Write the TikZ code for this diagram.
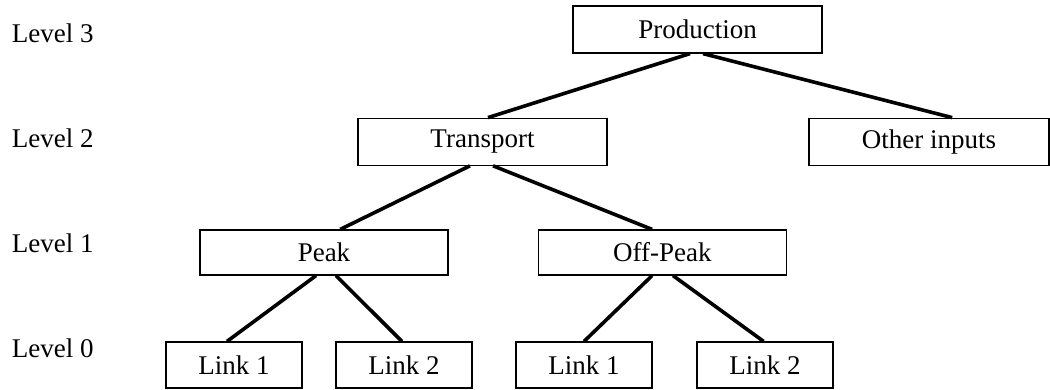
\documentclass[tikz,border=0pt]{standalone}
\usepackage{fontspec}
\setmainfont{Liberation Serif}
\usetikzlibrary{calc}
\begin{document}
\begin{tikzpicture}[x=1pt,y=-1pt,
  box/.style={draw=black,line width=1.2pt,rectangle,inner sep=0pt,
    font=\fontsize{27}{32}\selectfont},
  lvl/.style={anchor=base west,inner sep=0pt,font=\fontsize{27}{32}\selectfont},
  conn/.style={line width=3.6pt,black}]
\useasboundingbox (0,0) rectangle (1050,389);
% level labels
\node[lvl] (l3) at (11.7,42.7) {Level 3};
\node[lvl] (l2) at (11.7,147) {Level 2};
\node[lvl] (l1) at (11.7,252) {Level 1};
\node[lvl] (l0) at (11.7,357) {Level 0};
% boxes
\node[box,minimum width=249pt,minimum height=47pt] (prod) at (697.5,29.5) {Production};
\node[box,minimum width=249pt,minimum height=47pt] (trans) at (482.5,141.7) {Transport};
\node[box,minimum width=240pt,minimum height=47pt] (other) at (929,141.7) {Other inputs};
\node[box,minimum width=248pt,minimum height=45pt] (peak) at (324,252.5) {Peak};
\node[box,minimum width=248pt,minimum height=45pt] (off) at (662.3,252.5) {Off-Peak};
\node[box,minimum width=136pt,minimum height=46pt] (pa) at (234,365) {Link 1};
\node[box,minimum width=136pt,minimum height=46pt] (pb) at (404,365) {Link 2};
\node[box,minimum width=136pt,minimum height=46pt] (oa) at (584,365) {Link 1};
\node[box,minimum width=136pt,minimum height=46pt] (ob) at (765,365) {Link 2};
% connectors
\draw[conn] ($(prod.south west)!0.47!(prod.south east)$) -- ($(trans.north west)!0.522!(trans.north east)$);
\draw[conn] ($(prod.south west)!0.522!(prod.south east)$) -- ($(other.north west)!0.596!(other.north east)$);
\draw[conn] ($(trans.south west)!0.45!(trans.south east)$) -- ($(peak.north west)!0.565!(peak.north east)$);
\draw[conn] ($(trans.south west)!0.542!(trans.south east)$) -- ($(off.north west)!0.459!(off.north east)$);
\draw[conn] ($(peak.south west)!0.468!(peak.south east)$) -- ($(pa.north west)!0.449!(pa.north east)$);
\draw[conn] ($(peak.south west)!0.548!(peak.south east)$) -- ($(pb.north west)!0.485!(pb.north east)$);
\draw[conn] ($(off.south west)!0.459!(off.south east)$) -- ($(oa.north west)!0.5!(oa.north east)$);
\draw[conn] ($(off.south west)!0.543!(off.south east)$) -- ($(ob.north west)!0.49!(ob.north east)$);
\end{tikzpicture}
\end{document}
